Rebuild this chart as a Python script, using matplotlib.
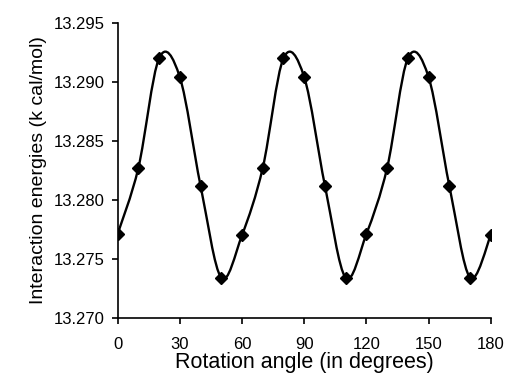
import numpy as np
import matplotlib.pyplot as plt
from matplotlib.path import Path
from matplotlib.patches import PathPatch

plt.rcParams['font.family'] = ['Liberation Sans', 'DejaVu Sans']

# data
angle = [0, 10, 20, 30, 40, 50, 60, 70, 80, 90, 100, 110, 120, 130, 140, 150, 160, 170, 180]
energy = [13.2771, 13.2827, 13.2920, 13.2904, 13.2812, 13.2734,
          13.2770, 13.2827, 13.2920, 13.2904, 13.2812, 13.2734,
          13.2771, 13.2827, 13.2920, 13.2904, 13.2812, 13.2734, 13.2770]
xticks = [0, 30, 60, 90, 120, 150, 180]
yticks = [13.270, 13.275, 13.280, 13.285, 13.290, 13.295]

fig = plt.figure(figsize=(5.07, 3.81), dpi=100)
ax = fig.add_axes([0.232, 0.166, 0.736, 0.774])

# smoothed line (Excel style cubic Bezier through the points)
pts = np.column_stack([angle, energy])
n = len(pts)
verts = [pts[0]]
codes = [Path.MOVETO]
for i in range(n - 1):
    p0 = pts[max(i - 1, 0)]
    p1 = pts[i]
    p2 = pts[i + 1]
    p3 = pts[min(i + 2, n - 1)]
    c1 = p1 + (p2 - p0) / 6
    c2 = p2 - (p3 - p1) / 6
    verts += [c1, c2, p2]
    codes += [Path.CURVE4] * 3
ax.add_patch(PathPatch(Path(verts, codes), facecolor='none', edgecolor='black', lw=1.7))
ax.plot(angle, energy, 'kD', markersize=6)

ax.set_xlim(0, 180)
ax.set_ylim(13.270, 13.295)
ax.set_xticks(xticks)
ax.set_yticks(yticks)
ax.set_yticklabels(['%.3f' % v for v in yticks])
ax.spines['top'].set_visible(False)
ax.spines['right'].set_visible(False)
ax.spines['left'].set_linewidth(1.2)
ax.spines['bottom'].set_linewidth(1.2)
ax.tick_params(axis='y', direction='out', length=4, width=1.2, pad=5, labelsize=12)
ax.tick_params(axis='x', direction='out', length=4, width=1.2, pad=10, labelsize=12)

ax.set_xlabel('Rotation angle (in degrees)', fontsize=15.5, labelpad=0)
ax.set_ylabel('Interaction energies (k cal/mol)', fontsize=14, labelpad=5)

fig.savefig('out.png', dpi=100)
